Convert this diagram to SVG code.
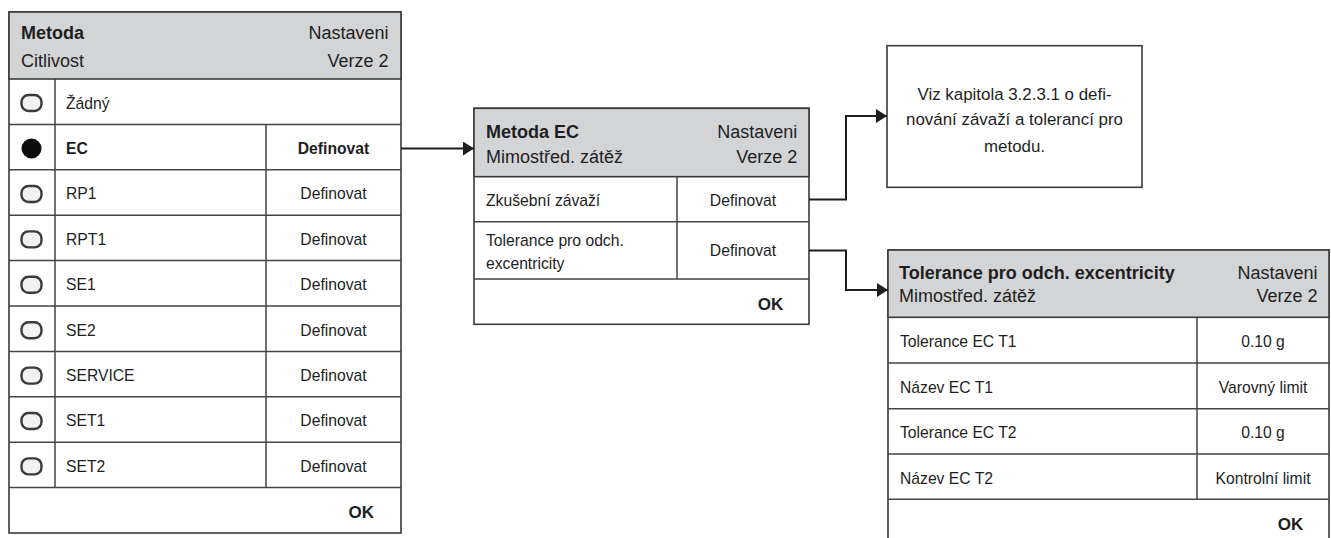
<svg xmlns="http://www.w3.org/2000/svg" width="1331" height="538" viewBox="0 0 1331 538">
  <style>
    .frame { fill: #ffffff; stroke: #3a3a3a; stroke-width: 1.6; }
    .head { fill: #d3d4d6; stroke: #3a3a3a; stroke-width: 1.6; }
    .grid { fill: none; stroke: #444444; stroke-width: 1.5; }
    .conn { fill: none; stroke: #1e1e1e; stroke-width: 2; }
    text { font-family: "Liberation Sans", Arial, sans-serif; font-size: 15.7px; fill: #1e1e1e; }
    .hb { font-weight: bold; font-size: 18px; }
    .hr { font-size: 18px; }
    .b { font-weight: bold; }
    .ok { font-weight: bold; font-size: 17px; text-anchor: end; }
    .end { text-anchor: end; }
    .mid { text-anchor: middle; }
    .note { font-size: 16.9px; text-anchor: middle; }
  </style>
  <defs>
    <marker id="arrow" viewBox="0 0 11 14" refX="11" refY="7" markerWidth="11" markerHeight="14" markerUnits="userSpaceOnUse" orient="auto">
      <path d="M0,0 L11,7 L0,14 Z" fill="#1e1e1e"/>
    </marker>
    <filter id="soft" x="-30%" y="-30%" width="160%" height="160%">
      <feGaussianBlur stdDeviation="0.6"/>
    </filter>
    <g id="radio-off">
      <rect x="-10" y="-8" width="20" height="16" rx="7" fill="#f2f2f2" stroke="#3a3a3a" stroke-width="2.4" filter="url(#soft)"/>
    </g>
    <g id="radio-on">
      <circle r="10" fill="#111111" filter="url(#soft)"/>
    </g>
  </defs>

  <!-- Method selection list -->
  <g id="method-list">
    <rect class="frame" x="9" y="12" width="392" height="521"/>
    <rect class="head" x="9" y="12" width="392" height="67"/>
    <text class="hb" x="21" y="39.3">Metoda</text>
    <text class="hr" x="21" y="66.7">Citlivost</text>
    <text class="hr end" x="388.5" y="39.3">Nastaveni</text>
    <text class="hr end" x="388.5" y="66.7">Verze 2</text>
    <path class="grid" d="M9,124.4 H401 M9,169.8 H401 M9,215.2 H401 M9,260.6 H401 M9,306 H401 M9,351.4 H401 M9,396.8 H401 M9,442.2 H401 M9,487.6 H401 M55,79 V487.6 M266,124.4 V487.6"/>
    <use href="#radio-off" x="31.5" y="103"/>
    <use href="#radio-on" x="31.5" y="148.5"/>
    <use href="#radio-off" x="31.5" y="194"/>
    <use href="#radio-off" x="31.5" y="239.4"/>
    <use href="#radio-off" x="31.5" y="284.8"/>
    <use href="#radio-off" x="31.5" y="330.2"/>
    <use href="#radio-off" x="31.5" y="375.6"/>
    <use href="#radio-off" x="31.5" y="421"/>
    <use href="#radio-off" x="31.5" y="466.4"/>
    <text x="66" y="108.5">Žádný</text>
    <text class="b" x="66" y="153.9">EC</text>
    <text class="b mid" x="333.5" y="153.9">Definovat</text>
    <text x="66" y="199.3">RP1</text>
    <text class="mid" x="333.5" y="199.3">Definovat</text>
    <text x="66" y="244.7">RPT1</text>
    <text class="mid" x="333.5" y="244.7">Definovat</text>
    <text x="66" y="290.1">SE1</text>
    <text class="mid" x="333.5" y="290.1">Definovat</text>
    <text x="66" y="335.5">SE2</text>
    <text class="mid" x="333.5" y="335.5">Definovat</text>
    <text x="66" y="380.9">SERVICE</text>
    <text class="mid" x="333.5" y="380.9">Definovat</text>
    <text x="66" y="426.3">SET1</text>
    <text class="mid" x="333.5" y="426.3">Definovat</text>
    <text x="66" y="471.7">SET2</text>
    <text class="mid" x="333.5" y="471.7">Definovat</text>
    <text class="ok" x="374" y="517.5">OK</text>
  </g>

  <!-- EC method settings -->
  <g id="method-ec">
    <rect class="frame" x="474" y="108.3" width="335" height="216"/>
    <rect class="head" x="474" y="108.3" width="335" height="68.4"/>
    <text class="hb" x="486" y="138.3">Metoda EC</text>
    <text class="hr" x="486" y="162.7">Mimostřed. zátěž</text>
    <text class="hr end" x="797.3" y="138.3">Nastaveni</text>
    <text class="hr end" x="797.3" y="162.7">Verze 2</text>
    <path class="grid" d="M474,221.7 H809 M474,279 H809 M677,176.7 V279"/>
    <text x="486" y="206">Zkušební závaží</text>
    <text class="mid" x="743" y="206">Definovat</text>
    <text x="486" y="245.5">Tolerance pro odch.</text>
    <text x="486" y="268.8">excentricity</text>
    <text class="mid" x="743" y="256">Definovat</text>
    <text class="ok" x="783.3" y="309.5">OK</text>
  </g>

  <!-- Reference note -->
  <g id="note">
    <rect class="frame" x="887" y="45.7" width="255" height="141.6"/>
    <text class="note" x="1014.5" y="100">Viz kapitola 3.2.3.1 o defi-</text>
    <text class="note" x="1014.5" y="124.5">nování závaží a tolerancí pro</text>
    <text class="note" x="1014.5" y="151.5">metodu.</text>
  </g>

  <!-- Eccentricity tolerance settings -->
  <g id="tolerance-ec">
    <rect class="frame" x="888" y="250" width="441" height="296"/>
    <rect class="head" x="888" y="250" width="441" height="67.3"/>
    <text class="hb" x="899" y="279">Tolerance pro odch. excentricity</text>
    <text class="hr" x="899" y="301.7">Mimostřed. zátěž</text>
    <text class="hr end" x="1317.5" y="279">Nastaveni</text>
    <text class="hr end" x="1317.5" y="301.7">Verze 2</text>
    <path class="grid" d="M888,363 H1329 M888,408.7 H1329 M888,454 H1329 M888,499.3 H1329 M1197,317.3 V499.3"/>
    <text x="900" y="347">Tolerance EC T1</text>
    <text class="mid" x="1263" y="347">0.10 g</text>
    <text x="900" y="392.7">Název EC T1</text>
    <text class="mid" x="1263" y="392.7">Varovný limit</text>
    <text x="900" y="438.2">Tolerance EC T2</text>
    <text class="mid" x="1263" y="438.2">0.10 g</text>
    <text x="900" y="483.5">Název EC T2</text>
    <text class="mid" x="1263" y="483.5">Kontrolní limit</text>
    <text class="ok" x="1303.3" y="529.5">OK</text>
  </g>

  <!-- Connectors -->
  <g id="connectors">
    <path class="conn" d="M401,148.5 H474" marker-end="url(#arrow)"/>
    <path class="conn" d="M809,199.5 H846 V116 H887" marker-end="url(#arrow)"/>
    <path class="conn" d="M809,250.5 H846 V290 H888" marker-end="url(#arrow)"/>
  </g>
</svg>
